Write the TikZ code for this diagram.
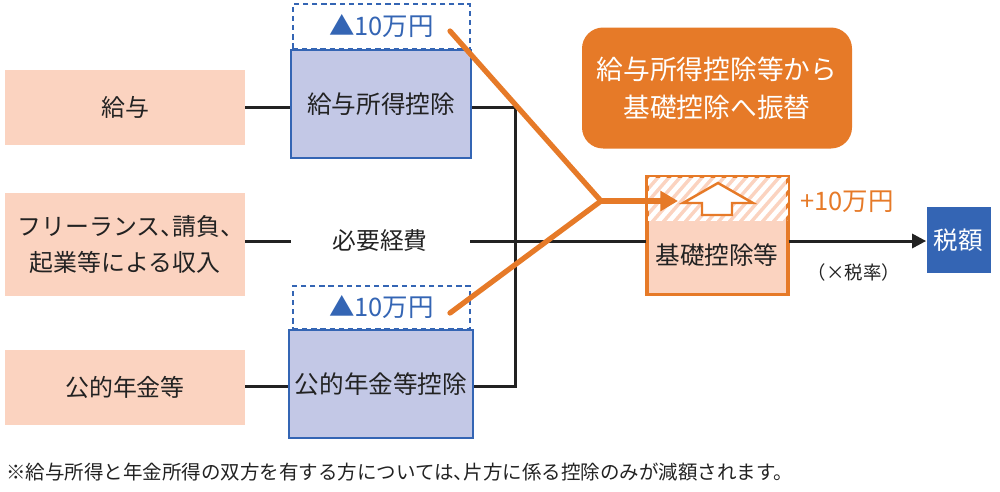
\documentclass[tikz,border=0pt]{standalone}
\usepackage{fontspec}
\setmainfont{Noto Sans CJK JP}
\usetikzlibrary{arrows.meta}
\definecolor{peach}{HTML}{FBD3C0}
\definecolor{lav}{HTML}{C3C8E6}
\definecolor{bblue}{HTML}{3465B4}
\definecolor{orng}{HTML}{E67A28}
\definecolor{txt}{HTML}{222222}
\newcommand{\hten}{\makebox[0.5em][l]{、}}
\tikzset{
 lbox/.style={fill=peach,draw=none,inner xsep=2pt,minimum width=240*0.02cm,text=txt,font=\fontsize{13.6}{21}\selectfont,align=center},
 dbox/.style={fill=lav,draw=bblue,line width=1.3pt,minimum width=180*0.02cm,minimum height=108*0.02cm,text=txt,font=\fontsize{14}{16}\selectfont},
 mbox/.style={draw=bblue,dashed,dash pattern=on 3pt off 2.2pt,line width=1.2pt,minimum width=177*0.02cm,anchor=south,text=bblue,font=\fontsize{14.5}{16}\selectfont,inner sep=0pt},
 conn/.style={draw=txt,line width=1.7pt},
 oline/.style={draw=orng,line width=3pt,line cap=round},
}
\begin{document}
\begin{tikzpicture}[x=0.02cm,y=-0.02cm]
\useasboundingbox (0,0) rectangle (1000,491);
% left boxes
\node[lbox,minimum height=75*0.02cm] (kyuyo) at (125,107.5) {給与};
\node[lbox,minimum height=103*0.02cm] (free) at (125,244.5) {フリーランス\hten 請負\hten\\起業等による収入};
\node[lbox,minimum height=75*0.02cm] (nenkin) at (125,387.5) {公的年金等};
% deduction boxes
\node[dbox] (kd) at (381,104) {給与所得控除};
\node[dbox] (nd) at (381,384) {公的年金等控除};
\node[mbox,minimum height=45*0.02cm] (kdm) at (381.5,50) {▲10万円};
\node[mbox,minimum height=43*0.02cm] (ndm) at (381.5,330) {▲10万円};
% middle text
\node[text=txt,font=\fontsize{13.5}{16}\selectfont] (hitsu) at (380,241) {必要経費};
% base box
\node[fill=peach,draw=orng,line width=1.4pt,minimum width=140*0.02cm,minimum height=117*0.02cm] (kiso) at (717.5,235.5) {};
\begin{scope}
\clip (647,177) rectangle (788,220);
\foreach \i in {0,...,22}{
  \draw[white,line width=2.6pt] (600+\i*11,225) -- (600+\i*11+48,170);
}
\end{scope}
\draw[orng,line width=1.4pt] (kiso.north west) rectangle (kiso.south east);
\node[text=txt,font=\fontsize{14}{16}\selectfont] (kisot) at (717,255) {基礎控除等};
% up arrow
\draw[orng,line width=1.4pt,fill=white,line join=miter] (702,215) -- (702,203) -- (683,203) -- (718,183) -- (753,203) -- (732,203) -- (732,215) -- cycle;
% tax box
\node[fill=bblue,minimum width=64*0.02cm,minimum height=66*0.02cm,text=white,font=\fontsize{14}{16}\selectfont] (zei) at (958.5,240) {税額};
% connectors
\coordinate (j1) at (515,107);
\coordinate (j2) at (515,386);
\draw[conn] (kyuyo.east |- j1) -- (kd.west |- j1);
\draw[conn] (nenkin.east |- j2) -- (nd.west |- j2);
\draw[conn] (kd.east |- j1) -- (j1) -- (j2) -- (nd.east |- j2);
\draw[conn] (free.east |- 0,241) -- (291,241);
\draw[conn] (470,241) -- (kiso.west |- 0,241);
\draw[conn,-{Triangle[length=8pt,width=8pt]}] (kiso.east |- 0,241) -- (zei.west |- 0,241);
% orange lines
\coordinate (m) at (601,201);
\coordinate (p1) at (450,31);
\coordinate (p2) at (450,313);
\coordinate (tip) at (678,201);
\draw[oline] (p1) -- (m) -- (p2);
\draw[orng,line width=3pt,-{Triangle[length=10pt,width=11pt]}] (m) -- (tip);
% labels
\node[text=orng,font=\fontsize{14.5}{16}\selectfont] (plus) at (847,202) {+10万円};
\node[text=txt,font=\fontsize{10.5}{12}\selectfont] (rate) at (854,272) {（×税率）};
% orange note
\node[fill=orng,rounded corners=12pt,minimum width=270*0.02cm,minimum height=121*0.02cm,text=white,align=center,font=\fontsize{15.2}{21.5}\selectfont] (note) at (717,88) {給与所得控除等から\\基礎控除へ振替};
% footnote
\node[anchor=west,text=txt,font=\fontsize{11.1}{12}\selectfont,inner sep=0pt] (foot) at (6,472) {※給与所得と年金所得の双方を有する方については\hten 片方に係る控除のみが減額されます。};
\end{tikzpicture}
\end{document}
